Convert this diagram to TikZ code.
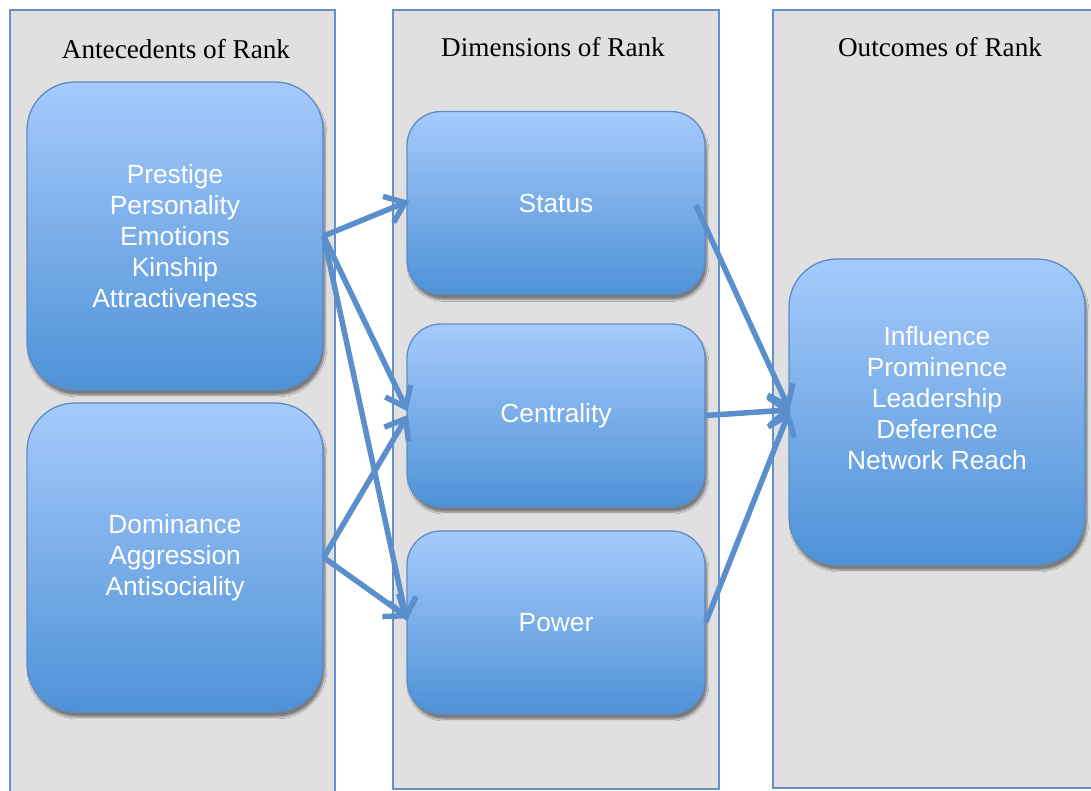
\documentclass[tikz,border=0pt]{standalone}
\usepackage{fontspec}
\setmainfont{Liberation Serif}
\newfontfamily\boxfont{Liberation Sans}
\usetikzlibrary{arrows.meta,shadows.blur,calc}
\definecolor{colfill}{HTML}{E0E0E0}
\definecolor{colline}{HTML}{6690C8}
\definecolor{boxtop}{HTML}{A6CAFC}
\definecolor{boxbot}{HTML}{4E92D6}
\definecolor{boxline}{HTML}{5C8CC8}
\definecolor{arrowc}{HTML}{5B8FCC}
\tikzset{
  column/.style={draw=colline, line width=1.3pt, fill=colfill},
  coltitle/.style={font=\fontsize{27.2}{30}\selectfont, text=black, inner sep=0pt},
  rankbox/.style={draw=boxline, line width=1.3pt, top color=boxtop, bottom color=boxbot,
    inner sep=0pt, align=center, text=white, font=\boxfont\fontsize{26.3}{31}\selectfont,
    blur shadow={shadow xshift=2pt, shadow yshift=-5pt, shadow blur steps=6, shadow opacity=45}},
  bigbox/.style={rankbox, minimum width=296pt, rounded corners=48pt},
  smallbox/.style={rankbox, minimum width=298pt, minimum height=183pt, rounded corners=34pt},
  link/.style={draw=arrowc, line width=5.5pt, -{Straight Barb[length=18pt,width=28pt,line width=5.5pt]}, shorten >=-3pt}
}
\begin{document}
\begin{tikzpicture}[x=1pt,y=-1pt]
\useasboundingbox (0,0) rectangle (1091,790);
% columns
\path[column] (10,10) rectangle (335,800);
\path[column] (393,10) rectangle (719,789);
\path[column] (773,10) rectangle (1110,788);
\node[coltitle] (t1) at (176,49) {Antecedents of Rank};
\node[coltitle] (t2) at (553,47) {Dimensions of Rank};
\node[coltitle] (t3) at (940,47) {Outcomes of Rank};
% boxes
\node[bigbox, minimum height=308pt] (prest) at (175,236)
  {Prestige\\Personality\\Emotions\\Kinship\\Attractiveness};
\node[bigbox, minimum height=309pt] (dom) at (175,557.5)
  {Dominance\\Aggression\\Antisociality};
\node[smallbox] (status) at (556,203) {Status};
\node[smallbox] (cent) at (556,415.5) {Centrality};
\node[smallbox] (power) at (556,622.5) {Power};
\node[bigbox, minimum height=306pt] (out) at (937,412) {};
\node[inner sep=0pt, align=center, text=white, font=\boxfont\fontsize{26.3}{31}\selectfont]
  (outtext) at (937,398) {Influence\\Prominence\\Leadership\\Deference\\Network Reach};
% connectors
\draw[link] (prest.east) -- ($(status.west)+(0,-1)$);
\draw[link] (prest.east) -- ($(cent.west)+(0,-7)$);
\draw[link] (prest.east) -- ($(power.west)+(0,-4)$);
\draw[link] (dom.east) -- ($(cent.west)+(0,2)$);
\draw[link] (dom.east) -- ($(power.west)+(0,-6)$);
\draw[link] ($(status.east)+(-10,2)$) -- ($(out.west)+(0,-5)$);
\draw[link] (cent.east) -- ($(out.west)+(0,-2)$);
\draw[link] (power.east) -- ($(out.west)+(0,2)$);
\end{tikzpicture}
\end{document}
